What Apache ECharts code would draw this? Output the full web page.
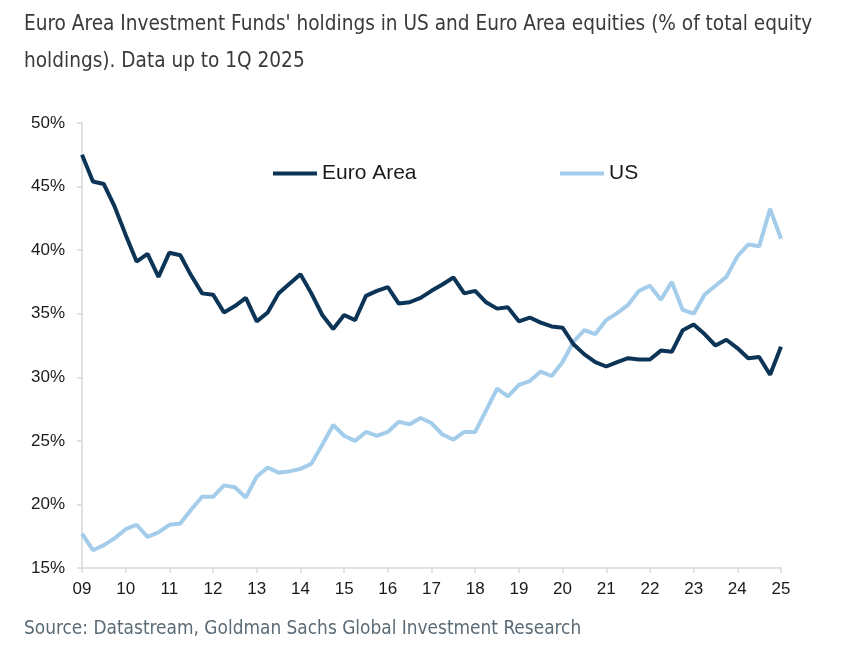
<!DOCTYPE html>
<html>
<head>
<meta charset="utf-8">
<script src="https://cdn.jsdelivr.net/npm/echarts@6/dist/echarts.min.js"></script>
<style>
html,body{margin:0;padding:0;background:#fff;}
#c{width:848px;height:653px;}
</style>
</head>
<body>
<div id="c"></div>
<script>
// Quarterly, 1Q 2009 .. 1Q 2025
var years = ['09','10','11','12','13','14','15','16','17','18','19','20','21','22','23','24','25'];
var euroArea = [47.5,45.4,45.2,43.4,41.2,39.1,39.7,37.9,39.8,39.6,38.0,36.6,36.5,35.1,35.6,36.25,
  34.4,35.1,36.6,37.35,38.1,36.6,34.9,33.8,34.9,34.5,36.4,36.8,37.1,35.8,35.9,36.25,
  36.8,37.3,37.85,36.6,36.8,35.9,35.4,35.5,34.4,34.7,34.3,34.0,33.9,32.6,31.8,31.2,
  30.85,31.2,31.5,31.4,31.4,32.1,32.0,33.7,34.15,33.4,32.5,32.95,32.3,31.5,31.6,30.2,32.4];
var us = [17.7,16.4,16.8,17.35,18.05,18.4,17.45,17.8,18.4,18.5,19.6,20.6,20.6,21.5,21.35,20.55,
  22.2,22.9,22.5,22.6,22.8,23.2,24.7,26.25,25.4,25.0,25.7,25.4,25.7,26.5,26.3,26.8,
  26.4,25.5,25.1,25.7,25.7,27.4,29.1,28.5,29.4,29.7,30.45,30.1,31.2,32.8,33.7,33.4,
  34.5,35.05,35.7,36.8,37.2,36.1,37.5,35.3,35.0,36.5,37.2,37.9,39.5,40.45,40.3,43.25,40.9];
var seriesNames = ['Euro Area','US'];
var titleText = "Euro Area Investment Funds' holdings in US and Euro Area equities (% of total equity\nholdings). Data up to 1Q 2025";
var sourceText = 'Source: Datastream, Goldman Sachs Global Investment Research';

var categories = [];
for (var y = 0; y < years.length; y++) {
  for (var q = 1; q <= 4; q++) {
    if (y === years.length - 1 && q > 1) break;
    categories.push(years[y] + 'Q' + q);
  }
}

var condensed = "'Liberation Sans Narrow','DejaVu Sans Condensed','Roboto',sans-serif";
var sans = "'Liberation Sans', Arial, sans-serif";
var chart = echarts.init(document.getElementById('c'), null, {renderer:'canvas'});
var yearTick = function (i) { return i % 4 === 0; };
function legendFor(name, left) {
  return {
    data: [name],
    left: left, top: 158,
    icon: 'rect',
    itemWidth: 44, itemHeight: 4,
    textStyle: {fontFamily: sans, fontSize: 21, color: '#1a1a1a'}
  };
}
chart.setOption({
  backgroundColor: '#ffffff',
  animation: false,
  title: [{
    text: titleText,
    left: 19, top: 1,
    textStyle: {fontFamily: condensed, fontSize: 20.6, fontWeight: 'normal', color: '#3a3a3a', lineHeight: 37}
  }, {
    text: sourceText,
    left: 19, top: 615,
    textStyle: {fontFamily: condensed, fontSize: 18.9, fontWeight: 'normal', color: '#5b6b76'}
  }],
  legend: [legendFor(seriesNames[0], 268), legendFor(seriesNames[1], 555)],
  grid: {left: 82, right: 67, top: 123, bottom: 85, containLabel: false},
  xAxis: {
    type: 'category',
    data: categories,
    boundaryGap: false,
    axisLine: {show: true, lineStyle: {color: '#d9d9d9', width: 1.5}},
    axisTick: {show: true, interval: yearTick, length: 5, lineStyle: {color: '#d9d9d9', width: 1.5}},
    axisLabel: {
      interval: yearTick,
      formatter: function (v) { return v.slice(0, 2); },
      margin: 13,
      fontFamily: sans, fontSize: 17, color: '#1a1a1a'
    },
    splitLine: {show: false}
  },
  yAxis: {
    type: 'value',
    min: 15, max: 50, interval: 5,
    axisLine: {show: true, lineStyle: {color: '#d9d9d9', width: 1.5}},
    axisTick: {show: true, length: 5, lineStyle: {color: '#d9d9d9', width: 1.5}},
    axisLabel: {formatter: '{value}%', margin: 17, fontFamily: sans, fontSize: 17, color: '#1a1a1a'},
    splitLine: {show: false}
  },
  series: [{
    name: seriesNames[0],
    type: 'line',
    data: euroArea,
    symbol: 'none',
    lineStyle: {color: '#0b3457', width: 4},
    itemStyle: {color: '#0b3457'},
    z: 3
  }, {
    name: seriesNames[1],
    type: 'line',
    data: us,
    symbol: 'none',
    lineStyle: {color: '#a3cdea', width: 4},
    itemStyle: {color: '#a3cdea'},
    z: 2
  }]
});
</script>
</body>
</html>
